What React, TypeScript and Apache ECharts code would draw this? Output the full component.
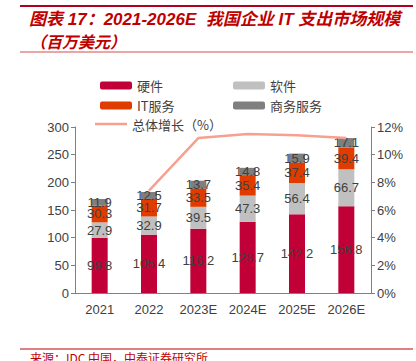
import React, { useEffect, useRef } from "react";
import * as echarts from "echarts";

const categories = ["2021", "2022", "2023E", "2024E", "2025E", "2026E"];
const hardware = [99.8, 105.4, 116.2, 128.7, 142.2, 156.8];
const software = [27.9, 32.9, 39.5, 47.3, 56.4, 66.7];
const itServices = [30.3, 31.7, 33.5, 35.4, 37.4, 39.4];
const bizServices = [11.9, 12.5, 13.7, 14.8, 15.9, 17.1];
const growth: (number | null)[] = [null, 7.4, 11.2, 11.5, 11.4, 11.2];

const FONT = "Liberation Sans, Arial, sans-serif";
const LINE_NAME = "总体增长（%）";
const LINE_COLOR = "#F8A090";

export default function App() {
  const ref = useRef<HTMLDivElement>(null);
  useEffect(() => {
    document.body.style.margin = "0";
    const chart = echarts.init(ref.current!, null, { renderer: "svg" });
    const label = {
      show: true,
      position: "inside" as const,
      color: "#404040",
      fontSize: 13,
      fontFamily: FONT,
    };
    const bar = (name: string, data: number[], color: string) => ({
      name,
      type: "bar",
      stack: "t",
      data,
      barWidth: 16,
      itemStyle: { color },
      label,
    });
    const legendCommon = {
      top: 74,
      orient: "vertical",
      itemWidth: 32,
      itemHeight: 8,
      itemGap: 7,
      textStyle: { color: "#404040", fontSize: 13, fontFamily: "'Noto Sans CJK SC', sans-serif" },
    };
    chart.setOption({
      animation: false,
      textStyle: { fontFamily: FONT },
      graphic: [
        { type: "line", shape: { x1: 20, y1: 6, x2: 413, y2: 6 }, style: { stroke: "#B00020", lineWidth: 2 } },
        {
          type: "text",
          x: 29,
          y: 11,
          style: {
            text: "图表 17：2021-2026E  我国企业 IT 支出市场规模",
            fill: "#C00000",
            font: "italic bold 17px 'Liberation Sans', 'Noto Sans CJK SC', sans-serif",
          },
        },
        {
          type: "text",
          x: 30,
          y: 33,
          style: {
            text: "（百万美元）",
            fill: "#C00000",
            font: "italic bold 16px 'Noto Sans CJK SC', sans-serif",
          },
        },
        { type: "line", shape: { x1: 20, y1: 52, x2: 413, y2: 52 }, style: { stroke: "#E08888", lineWidth: 1.5 } },
        { type: "line", shape: { x1: 20, y1: 349, x2: 413, y2: 349 }, style: { stroke: "#C00000", lineWidth: 1 } },
        {
          type: "text",
          x: 30,
          y: 351,
          style: {
            text: "来源：IDC 中国，中泰证券研究所",
            fill: "#C00000",
            font: "12px 'Noto Sans CJK SC', sans-serif",
          },
        },
        // line-series legend entry (plain line, no symbol)
        { type: "line", shape: { x1: 95, y1: 124, x2: 127, y2: 124 }, style: { stroke: LINE_COLOR, lineWidth: 2.5 } },
        {
          type: "text",
          x: 132,
          y: 124,
          style: {
            text: LINE_NAME,
            fill: "#404040",
            font: "13px 'Noto Sans CJK SC', sans-serif",
            verticalAlign: "middle",
          },
        },
      ],
      legend: [
        { ...legendCommon, left: 95, data: ["硬件", "IT服务"] },
        { ...legendCommon, left: 228, data: ["软件", "商务服务"] },
      ],
      grid: { left: 75, right: 45, top: 127, bottom: 68 },
      xAxis: {
        type: "category",
        data: categories,
        axisLine: { lineStyle: { color: "#808080" } },
        axisTick: { lineStyle: { color: "#808080" }, length: 5 },
        axisLabel: { color: "#404040", fontSize: 13, margin: 10, interval: 0 },
      },
      yAxis: [
        {
          type: "value",
          min: 0,
          max: 300,
          interval: 50,
          splitLine: { show: false },
          axisLine: { show: true, lineStyle: { color: "#808080" } },
          axisTick: { show: true, lineStyle: { color: "#808080" }, length: 4 },
          axisLabel: { color: "#404040", fontSize: 13, margin: 6 },
        },
        {
          type: "value",
          min: 0,
          max: 12,
          interval: 2,
          splitLine: { show: false },
          axisLine: { show: true, lineStyle: { color: "#808080" } },
          axisTick: { show: true, lineStyle: { color: "#808080" }, length: 4 },
          axisLabel: { color: "#404040", fontSize: 13, margin: 6, formatter: "{value}%" },
        },
      ],
      series: [
        bar("硬件", hardware, "#C00036"),
        bar("软件", software, "#C0C0C0"),
        bar("IT服务", itServices, "#E03C00"),
        bar("商务服务", bizServices, "#7F7F7F"),
        {
          name: LINE_NAME,
          type: "line",
          yAxisIndex: 1,
          data: growth,
          symbol: "none",
          lineStyle: { color: LINE_COLOR, width: 2.5 },
          itemStyle: { color: LINE_COLOR },
          z: 5,
        },
      ],
    });
    return () => chart.dispose();
  }, []);
  return <div ref={ref} style={{ width: 416, height: 361 }} />;
}
